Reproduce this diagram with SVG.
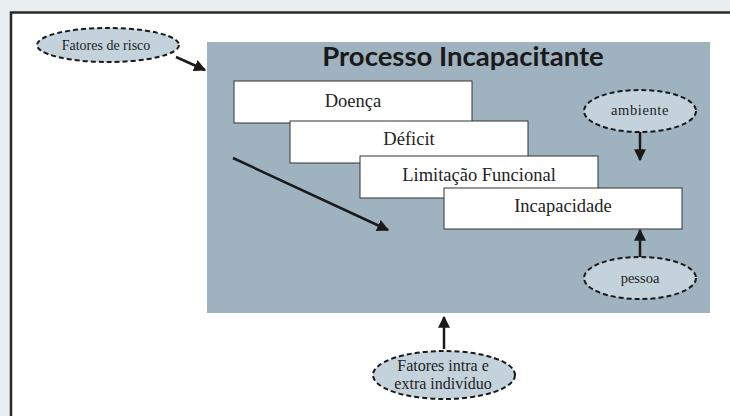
<svg xmlns="http://www.w3.org/2000/svg" width="730" height="416" viewBox="0 0 730 416">
<style>
.box{fill:#fff;stroke:#333;stroke-width:1}
.ell{fill:#c4d3db;stroke:#1a1a1a;stroke-width:2;stroke-dasharray:5,3}
.lbl{fill:#222;text-anchor:middle}
.con{stroke:#1a1a1a;stroke-width:2.5;fill:none;marker-end:url(#ah)}
</style>
<defs>
<marker id="ah" viewBox="0 0 10 10" refX="9" refY="5" markerWidth="4.8" markerHeight="4.8" orient="auto" markerUnits="strokeWidth">
<path d="M0,0 L10,5 L0,10 z" fill="#1a1a1a"/>
</marker>
</defs>
<rect x="0" y="0" width="730" height="416" fill="#e9eef1"/>
<rect x="11" y="12.5" width="730" height="420" fill="#fff" stroke="#2a2a2a" stroke-width="2.5"/>
<g id="panel">
<rect x="207" y="42" width="503" height="271" fill="#9fb2bf"/>
<text x="463" y="66" font-family="Lato, 'Open Sans', sans-serif" font-weight="bold" font-size="27.5" fill="#1a1a1a" text-anchor="middle">Processo Incapacitante</text>
</g>
<g font-family="Liberation Serif, Times New Roman, DejaVu Serif, serif">
<g id="doenca" font-size="18.5"><rect class="box" x="234" y="81" width="238" height="42"/><text class="lbl" x="353" y="107">Doença</text></g>
<g id="deficit" font-size="18.5"><rect class="box" x="290" y="121" width="238" height="42"/><text class="lbl" x="409" y="145">Déficit</text></g>
<g id="limitacao" font-size="18.5"><rect class="box" x="360" y="156" width="238" height="42"/><text class="lbl" x="479" y="181">Limitação Funcional</text></g>
<g id="incapacidade" font-size="18.5"><rect class="box" x="444" y="188" width="238" height="41"/><text class="lbl" x="563" y="212">Incapacidade</text></g>
<g id="fatores-risco" font-size="14"><ellipse class="ell" cx="108" cy="45" rx="71" ry="17"/><text class="lbl" x="106" y="50">Fatores de risco</text></g>
<g id="ambiente" font-size="14.5"><ellipse class="ell" cx="640" cy="111" rx="56" ry="21"/><text class="lbl" x="640" y="115" letter-spacing="0.6">ambiente</text></g>
<g id="pessoa" font-size="14.5"><ellipse class="ell" cx="640" cy="278" rx="56" ry="21"/><text class="lbl" x="640" y="283">pessoa</text></g>
<g id="fatores-intra" font-size="16"><ellipse class="ell" cx="444" cy="375" rx="71" ry="24"/><text class="lbl" x="443" y="371">Fatores intra e</text><text class="lbl" x="443" y="389">extra indivíduo</text></g>
</g>
<g id="connectors">
<line class="con" x1="176" y1="57" x2="205" y2="70"/>
<line class="con" x1="233" y1="158" x2="388" y2="230"/>
<line class="con" x1="640" y1="132" x2="640" y2="160"/>
<line class="con" x1="640" y1="257" x2="640" y2="230"/>
<line class="con" x1="444" y1="349" x2="444" y2="317"/>
</g>
</svg>
